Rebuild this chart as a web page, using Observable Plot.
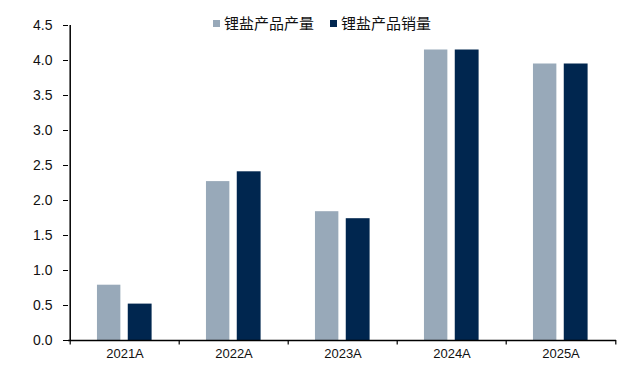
<!DOCTYPE html>
<html>
<head>
<meta charset="utf-8">
<script src="https://cdn.jsdelivr.net/npm/d3@7"></script>
<script src="https://cdn.jsdelivr.net/npm/@observablehq/plot@0.6"></script>
<style>
  html, body { margin: 0; padding: 0; background: #fff; }
  #wrap { position: relative; width: 625px; height: 365px; }
  #legend { position: absolute; top: 13px; left: 213px; display: flex; font-family: "Noto Sans CJK SC", sans-serif; font-size: 15px; color: #111; line-height: 20px; }
  .item { display: flex; align-items: center; margin-right: 16px; }
  .sw { width: 7px; height: 7px; margin-right: 4px; }
  svg { font-family: "Liberation Sans", Arial, sans-serif; }
</style>
</head>
<body>
<div id="wrap"><div id="legend"></div></div>
<script>
const categories = ["2021A", "2022A", "2023A", "2024A", "2025A"];
const seriesNames = ["锂盐产品产量", "锂盐产品销量"];
const production = [0.79, 2.27, 1.84, 4.15, 3.95];
const sales = [0.52, 2.41, 1.74, 4.15, 3.95];
const yTicks = [0, 0.5, 1, 1.5, 2, 2.5, 3, 3.5, 4, 4.5];
const colors = ["#98a9b9", "#00264f"];

const W = 625, H = 365, ML = 68, MR = 9, MT = 25, MB = 25;
const step = (W - ML - MR) / categories.length;

const prodData = categories.map((c, i) => ({category: c, value: production[i]}));
const salesData = categories.map((c, i) => ({category: c, value: sales[i]}));

const plot = Plot.plot({
  width: W, height: H,
  marginLeft: ML, marginRight: MR, marginTop: MT, marginBottom: MB,
  style: {fontSize: "13px", color: "#111", background: "#fff"},
  x: {domain: categories, padding: 0},
  y: {domain: [0, 4.5]},
  marks: [
    Plot.axisX({label: null, tickSize: 0, tickPadding: 8, fontSize: 13}),
    Plot.axisY(yTicks, {label: null, tickSize: 5, tickPadding: 11, tickFormat: d3.format(".1f"), fontSize: 14, stroke: "#000"}),
    Plot.barY(prodData, {x: "category", y: "value", fill: colors[0], insetLeft: step * 0.246, insetRight: step * 0.535}),
    Plot.barY(salesData, {x: "category", y: "value", fill: colors[1], insetLeft: step * 0.527, insetRight: step * 0.25}),
    Plot.ruleY([0], {stroke: "#000", strokeWidth: 1.5}),
    Plot.ruleX(categories, {x: d => d, dx: -step / 2, y1: 0, y2: -0.065, stroke: "#000", strokeWidth: 1.2}),
    Plot.ruleX([categories[categories.length - 1]], {x: d => d, dx: step / 2, y1: 0, y2: -0.065, stroke: "#000", strokeWidth: 1.2}),
    Plot.ruleX([categories[0]], {x: d => d, dx: -step / 2, y1: 0, y2: 4.5, stroke: "#000", strokeWidth: 1.5})
  ]
});
document.getElementById("wrap").prepend(plot);

const legend = document.getElementById("legend");
seriesNames.forEach((name, i) => {
  const item = document.createElement("div");
  item.className = "item";
  const sw = document.createElement("div");
  sw.className = "sw";
  sw.style.background = colors[i];
  const t = document.createElement("span");
  t.textContent = name;
  item.appendChild(sw);
  item.appendChild(t);
  legend.appendChild(item);
});
</script>
</body>
</html>
